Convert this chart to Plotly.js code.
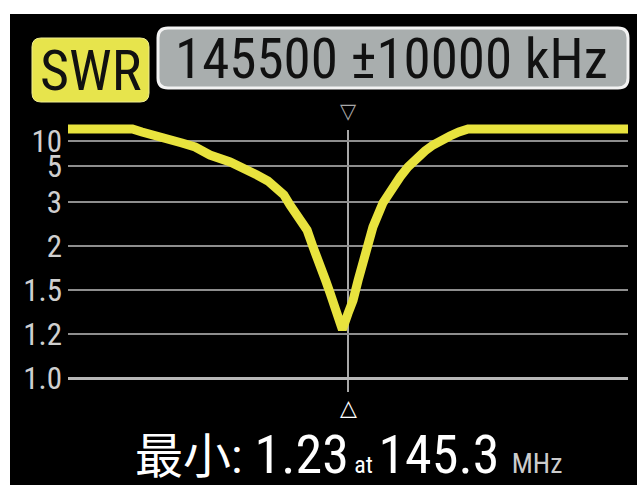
<!DOCTYPE html>
<html>
<head>
<meta charset="utf-8">
<script src="https://cdn.plot.ly/plotly-3.0.1.min.js"></script>
<style>
html,body{margin:0;padding:0;background:#ffffff;width:637px;height:485px;overflow:hidden;}
#chart{position:absolute;left:10px;top:14px;width:627px;height:471px;}
</style>
</head>
<body>
<div id="chart"></div>
<script>
// ---- data ----
const centerMHz = 145.5;
const spanMHz = 10;
const freqMHz = [135.5, 137.8, 138.14, 138.6, 139.07, 139.57, 140.04, 140.57, 141.29, 141.82, 142.25, 142.64, 142.96, 143.21, 143.43, 143.79, 144.04, 144.25, 144.5, 144.71, 144.86, 145.07, 145.3, 145.5, 145.68, 145.86, 146.04, 146.21, 146.39, 146.75, 147.07, 147.36, 147.64, 147.96, 148.25, 148.54, 148.82, 149.14, 149.46, 149.79, 155.5];
const swr     = [12.4, 12.4, 11.8, 11.2, 10.2, 9.6, 8.8, 7.2, 5.8, 4.89, 4.5, 4.17, 3.78, 3.39, 2.93, 2.59, 2.36, 1.99, 1.81, 1.60, 1.48, 1.35, 1.23, 1.34, 1.43, 1.61, 1.84, 2.07, 2.43, 2.98, 3.78, 4.39, 4.94, 6.6, 8.0, 9.2, 10.2, 11.0, 11.8, 12.4, 12.4];
const tickSWR   = [1.0, 1.2, 1.5, 2, 3, 5, 10];
const tickText  = ["1.0", "1.2", "1.5", "2", "3", "5", "10"];
const minLabel = "最小";
const minSWR = "1.23";
const minFreq = "145.3";

// SWR display scale of the analyzer (piecewise, non-linear)
const scaleSWR = [1, 1.2, 1.5, 2, 3, 5, 10];
const scalePos = [0, 44, 88, 132, 176, 212, 237];
function swrToPos(s){
  for(let i=0;i<scaleSWR.length-1;i++){
    if(s<=scaleSWR[i+1]){
      const t=(s-scaleSWR[i])/(scaleSWR[i+1]-scaleSWR[i]);
      return scalePos[i]+t*(scalePos[i+1]-scalePos[i]);
    }
  }
  const n=scaleSWR.length-1;
  const slope=(scalePos[n]-scalePos[n-1])/(scaleSWR[n]-scaleSWR[n-1]);
  return scalePos[n]+(s-scaleSWR[n])*slope;
}

const FONT = "'Liberation Sans Narrow','Roboto Condensed','DejaVu Sans Condensed','Roboto',sans-serif";
const CJK = "'Liberation Sans Narrow','Roboto Condensed','Noto Sans CJK SC',sans-serif";

// pixel helpers for decorations (page pixel -> paper)
const PL=68, PR=628, PT=118, PB=392;
const px = x => (x-PL)/(PR-PL);
const py = y => (PB-y)/(PB-PT);
function roundRect(x0,y0,x1,y1,r){
  const a=px(x0), b=px(x1), c=py(y0), d=py(y1);
  const rx=r/(PR-PL), ry=r/(PB-PT);
  return `M${a+rx},${c} L${b-rx},${c} Q${b},${c} ${b},${c-ry} L${b},${d+ry} Q${b},${d} ${b-rx},${d} L${a+rx},${d} Q${a},${d} ${a},${d+ry} L${a},${c-ry} Q${a},${c} ${a+rx},${c} Z`;
}

const trace = {
  x: freqMHz,
  y: swr.map(swrToPos),
  type: 'scatter',
  mode: 'lines',
  line: {color: '#e8e33e', width: 9},
  cliponaxis: false,
  hoverinfo: 'skip'
};

const layout = {
  width: 627, height: 471,
  margin: {l: 58, r: 9, t: 104, b: 93, pad: 0},
  paper_bgcolor: '#000000',
  plot_bgcolor: '#000000',
  showlegend: false,
  xaxis: {range: [centerMHz - spanMHz, centerMHz + spanMHz], showgrid: false, zeroline: false, showticklabels: false, ticks: '', showline: false},
  yaxis: {
    range: [-14, 260],
    tickvals: tickSWR.map(swrToPos),
    ticktext: tickText,
    showgrid: true, gridcolor: '#8e8e8e', gridwidth: 2,
    zeroline: true, zerolinecolor: '#b8b8b8', zerolinewidth: 3,
    ticks: '', showline: false,
    ticklabelstandoff: 5,
    tickfont: {family: FONT, size: 31, color: '#cfcfcf'}
  },
  shapes: [
    {type: 'line', xref: 'x', yref: 'paper', x0: centerMHz, x1: centerMHz, y0: 0, y1: py(130), line: {color: '#a8a8a8', width: 2}, layer: 'below'},
    {type: 'path', xref: 'paper', yref: 'paper', path: roundRect(32, 38, 149, 102, 9), fillcolor: '#e7e44c', line: {color: '#f0ee90', width: 1}},
    {type: 'path', xref: 'paper', yref: 'paper', path: roundRect(158, 28, 628, 88, 10), fillcolor: '#a9aeae', line: {color: '#f2f2f2', width: 3}}
  ],
  annotations: [
    {xref: 'paper', yref: 'paper', x: px(90), y: py(71), text: 'SWR', showarrow: false, xanchor: 'center', yanchor: 'middle', font: {family: FONT, size: 56, color: '#111111'}},
    {xref: 'paper', yref: 'paper', x: px(391), y: py(59), text: '145500 ±10000 kHz', showarrow: false, xanchor: 'center', yanchor: 'middle', font: {family: FONT, size: 55, color: '#111111'}},
    {xref: 'x', yref: 'paper', x: centerMHz, y: py(111), text: '▽', showarrow: false, xanchor: 'center', yanchor: 'middle', font: {family: 'DejaVu Sans', size: 21, color: '#a8a8a8'}},
    {xref: 'x', yref: 'paper', x: centerMHz, y: py(407), text: '△', showarrow: false, xanchor: 'center', yanchor: 'middle', font: {family: 'DejaVu Sans', size: 22, color: '#ffffff'}},
    {xref: 'paper', yref: 'paper', x: px(133), y: py(454), showarrow: false, xanchor: 'left', yanchor: 'middle',
     text: '<span style="font-size:48px">' + minLabel + ':</span> ' + minSWR + '<span style="font-size:24px"> at </span>' + minFreq + ' <span style="font-size:28px;color:#cccccc">MHz</span>',
     font: {family: CJK, size: 54, color: '#ffffff'}}
  ]
};

Plotly.newPlot('chart', [trace], layout, {staticPlot: true, displayModeBar: false});
</script>
</body>
</html>
